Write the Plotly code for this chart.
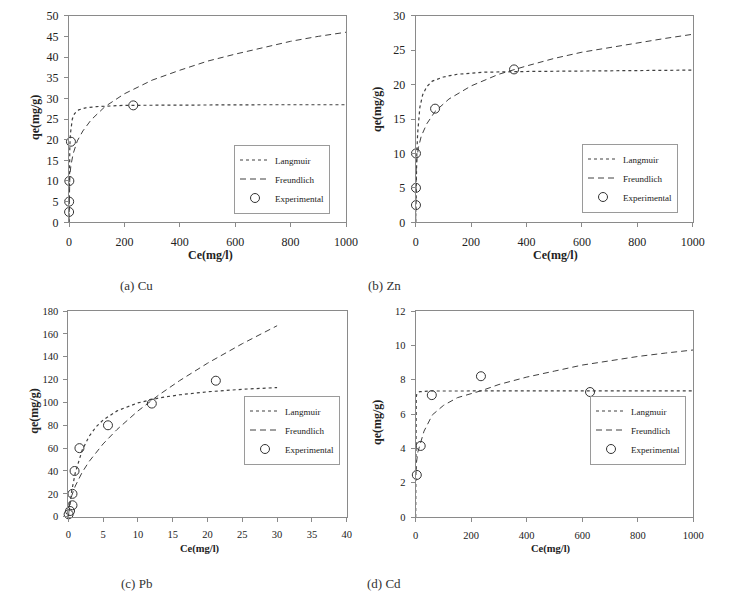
import plotly.graph_objects as go

# ---------------- data ----------------
# (a) Cu
cu_exp_ce = [0.3, 0.6, 1.2, 7, 232]
cu_exp_qe = [2.5, 5.0, 10.0, 19.5, 28.3]
cu_lang_ce = [0, 0.5, 1, 2, 3, 5, 8, 12, 20, 35, 60, 100, 200, 400, 700, 1000]
cu_lang_qe = [0, 6.6, 10.7, 15.5, 18.3, 21.4, 23.6, 25.0, 26.3, 27.2, 27.7, 28.0, 28.3, 28.4, 28.45, 28.45]
cu_freu_ce = [0, 0.2, 1, 3, 7, 15, 30, 50, 80, 130, 200, 300, 400, 500, 600, 700, 800, 900, 1000]
cu_freu_qe = [0, 5.9, 8.6, 11.3, 13.8, 16.6, 19.7, 22.1, 24.8, 28.0, 31.1, 34.4, 36.8, 39.0, 40.7, 42.3, 43.8, 45.0, 46.0]

# (b) Zn
zn_exp_ce = [1, 1, 1, 70, 355]
zn_exp_qe = [2.5, 5.0, 10.0, 16.5, 22.2]
zn_lang_ce = [0, 1, 2, 4, 7, 10, 15, 25, 40, 60, 100, 150, 250, 400, 600, 800, 1000]
zn_lang_qe = [0, 3.7, 6.3, 9.9, 12.9, 14.8, 16.7, 18.5, 19.7, 20.5, 21.1, 21.5, 21.8, 21.9, 22.0, 22.05, 22.1]
zn_freu_ce = [0, 0.5, 2, 5, 10, 20, 40, 70, 120, 200, 300, 400, 500, 600, 700, 800, 900, 1000]
zn_freu_qe = [0, 6.0, 7.9, 9.5, 10.9, 12.5, 14.3, 16.1, 17.9, 19.8, 21.5, 22.7, 23.8, 24.7, 25.4, 26.1, 26.7, 27.3]

# (c) Pb
pb_exp_ce = [0.05, 0.25, 0.6, 0.6, 0.9, 1.6, 5.7, 12.0, 21.2]
pb_exp_qe = [2.1, 5.0, 10, 20, 40, 60, 80, 99, 119]
pb_lang_ce = [0, 0.5, 1, 2, 3, 4, 5, 7, 10, 13, 16, 20, 25, 30]
pb_lang_qe = [0, 22.8, 38.3, 58.3, 70.4, 78.7, 84.6, 92.6, 99.6, 103.9, 106.7, 109.3, 111.5, 113.0]
pb_freu_ce = [0, 0.2, 0.5, 1, 2, 3, 5, 7, 10, 13, 16, 20, 25, 30]
pb_freu_qe = [0, 11.3, 18.5, 26.8, 38.9, 48.4, 63.7, 76.3, 92.5, 106.5, 119.1, 134.3, 151.4, 167.1]

# (d) Cd
cd_exp_ce = [4, 18, 58, 235, 628]
cd_exp_qe = [2.45, 4.14, 7.1, 8.2, 7.28]
cd_lang_ce = [0, 0.1, 0.3, 0.6, 1, 2, 4, 8, 15, 50, 1000]
cd_lang_qe = [0, 3.7, 5.5, 6.3, 6.7, 7.0, 7.17, 7.26, 7.3, 7.34, 7.35]
cd_freu_ce = [1, 3, 8, 15, 30, 60, 100, 150, 237, 300, 400, 500, 600, 700, 800, 900, 1000]
cd_freu_qe = [2.6, 3.2, 3.8, 4.15, 5.0, 5.95, 6.5, 6.95, 7.36, 7.72, 8.15, 8.5, 8.85, 9.1, 9.35, 9.55, 9.73]

series_names = ["Langmuir", "Freundlich", "Experimental"]
captions = ["(a) Cu", "(b) Zn", "(c) Pb", "(d) Cd"]
x_axis_title = "Ce(mg/l)"
y_axis_title = "qe(mg/g)"

# ---------------- layout settings ----------------
W, H = 729, 596
panels = [
    dict(lang=(cu_lang_ce, cu_lang_qe), freu=(cu_freu_ce, cu_freu_qe), exp=(cu_exp_ce, cu_exp_qe),
         box=(69, 346, 15.7, 222.3), xr=[0, 1000], xd=200, yr=[0, 50], yd=5,
         legend=(234, 179), xt=(210, 255), yt=(35, 118), cap=(136.5, 286), fs=12, xts=12),
    dict(lang=(zn_lang_ce, zn_lang_qe), freu=(zn_freu_ce, zn_freu_qe), exp=(zn_exp_ce, zn_exp_qe),
         box=(415.7, 692.7, 15.7, 222.3), xr=[0, 1000], xd=200, yr=[0, 30], yd=5,
         legend=(582, 178), xt=(555.7, 255), yt=(377, 110), cap=(384, 286), fs=12, xts=12),
    dict(lang=(pb_lang_ce, pb_lang_qe), freu=(pb_freu_ce, pb_freu_qe), exp=(pb_exp_ce, pb_exp_qe),
         box=(68.3, 346.7, 311, 516.7), xr=[0, 40], xd=5, yr=[0, 180], yd=20,
         legend=(244, 430), xt=(200, 549), yt=(34, 411.7), cap=(136, 583), fs=10.5, xts=10.5),
    dict(lang=(cd_lang_ce, cd_lang_qe), freu=(cd_freu_ce, cd_freu_qe), exp=(cd_exp_ce, cd_exp_qe),
         box=(415.7, 693.3, 311, 517), xr=[0, 1000], xd=200, yr=[0, 12], yd=2,
         legend=(590, 430), xt=(550.7, 549), yt=(377, 423), cap=(384, 583), fs=10.5, xts=10.5),
]

SERIF = "Liberation Serif"
LINE_COL = "#404040"
AX_COL = "#8a8a8a"

fig = go.Figure()
layout = dict(width=W, height=H, margin=dict(l=0, r=0, t=0, b=0, pad=0, autoexpand=False),
              paper_bgcolor="white", plot_bgcolor="white", showlegend=True,
              font=dict(family=SERIF, size=12, color="#222"))
annotations = []

for i, p in enumerate(panels):
    sfx = "" if i == 0 else str(i + 1)
    lg = "legend" if i == 0 else f"legend{i + 1}"
    xa, ya = "x" + sfx, "y" + sfx
    fig.add_trace(go.Scatter(x=p["lang"][0], y=p["lang"][1], mode="lines", name=series_names[0],
                             line=dict(color=LINE_COL, width=1.2, dash="dot"),
                             xaxis=xa, yaxis=ya, legend=lg))
    fig.add_trace(go.Scatter(x=p["freu"][0], y=p["freu"][1], mode="lines", name=series_names[1],
                             line=dict(color=LINE_COL, width=1, dash="6px,4px"),
                             xaxis=xa, yaxis=ya, legend=lg))
    fig.add_trace(go.Scatter(x=p["exp"][0], y=p["exp"][1], mode="markers", name=series_names[2],
                             marker=dict(symbol="circle-open", size=9, color="#333",
                                         line=dict(width=1, color="#333")),
                             cliponaxis=False, xaxis=xa, yaxis=ya, legend=lg))

    x0, x1, y0, y1 = p["box"]
    axis_common = dict(showline=True, mirror=True, linecolor=AX_COL, linewidth=1,
                       ticks="outside", ticklen=4, tickcolor=AX_COL, showgrid=False,
                       zeroline=False, automargin=False,
                       tickfont=dict(family=SERIF, size=p["fs"], color="#222"))
    layout["xaxis" + sfx] = dict(domain=[x0 / W, x1 / W], anchor=ya, range=p["xr"],
                                 tick0=0, dtick=p["xd"], ticklabelstandoff=4, **axis_common)
    layout["yaxis" + sfx] = dict(domain=[1 - y1 / H, 1 - y0 / H], anchor=xa, range=p["yr"],
                                 tick0=0, dtick=p["yd"], ticklabelstandoff=3, **axis_common)
    lx, ly = p["legend"]
    layout[lg] = dict(x=lx / W, y=1 - ly / H, xanchor="left", yanchor="middle",
                      bgcolor="white", bordercolor="#9a9a9a", borderwidth=1,
                      font=dict(family=SERIF, size=9, color="#222"),
                      tracegroupgap=0, itemwidth=30)

    common_ann = dict(xref="paper", yref="paper", showarrow=False,
                      xanchor="center", yanchor="middle")
    annotations.append(dict(text=x_axis_title, x=p["xt"][0] / W, y=1 - p["xt"][1] / H,
                            font=dict(family=SERIF, size=p["xts"], color="#222", weight="bold"),
                            **common_ann))
    annotations.append(dict(text=y_axis_title, x=p["yt"][0] / W, y=1 - p["yt"][1] / H,
                            textangle=-90,
                            font=dict(family=SERIF, size=12, color="#222", weight="bold"),
                            **common_ann))
    annotations.append(dict(text=captions[i], x=p["cap"][0] / W, y=1 - p["cap"][1] / H,
                            font=dict(family=SERIF, size=13, color="#333"),
                            **common_ann))

layout["annotations"] = annotations
fig.update_layout(**layout)
fig.write_html("out.html", config={"displayModeBar": False},
               post_script="document.body.style.margin='0px';document.body.style.overflow='hidden';")
